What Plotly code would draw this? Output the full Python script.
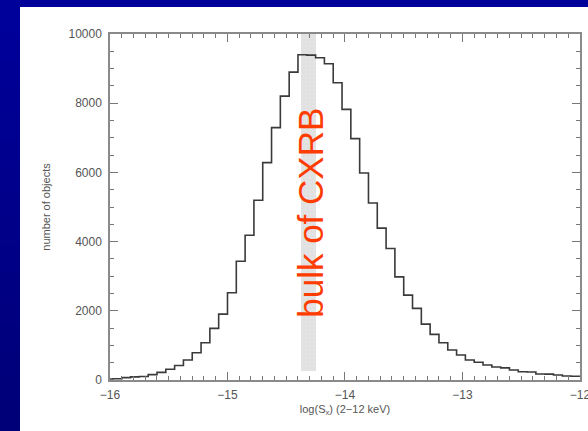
import plotly.graph_objects as go

# Histogram of 2-12 keV X-ray fluxes: regular bins of width 0.075 dex
bin_start = -16.05
bin_width = 0.075
counts = [
    30, 35, 70, 90, 100, 155, 220, 310, 420, 577, 788,
    1077, 1491, 1905, 2520, 3434, 4185, 5195, 6283, 7293, 8205,
    8898, 9399, 9390, 9312, 9140, 8592, 7821, 6975, 5983, 5117,
    4390, 3801, 2981, 2453, 2069, 1616, 1319, 1077, 866, 722,
    577, 511, 433, 375, 350, 289, 240, 230, 173, 170, 144, 115, 110,
]
edges = [bin_start + bin_width * i for i in range(len(counts) + 1)]

# Flux range that makes up the bulk of the cosmic X-ray background
band_x = [-14.375, -14.25]
band_y = [270, 10000]
band_label = "bulk of CXRB"

x_ticks = [-16, -15, -14, -13, -12]
x_labels = ["−16", "−15", "−14", "−13", "−12"]
y_ticks = [0, 2000, 4000, 6000, 8000, 10000]
y_labels = ["0", "2000", "4000", "6000", "8000", "10000"]

W, H = 588, 431
L, R, T, B = 110, 8, 34, 51
pw, ph = W - L - R, H - T - B

def px_x(p):
    return (p - L) / pw

def px_y(p):
    return (H - B - p) / ph

fig = go.Figure()

fig.add_trace(go.Bar(
    x=[(band_x[0] + band_x[1]) / 2], y=[band_y[1] - band_y[0]], base=[band_y[0]],
    width=[band_x[1] - band_x[0]],
    marker=dict(color="#e4e4e4", line=dict(width=0),
                pattern=dict(shape="+", fgcolor="#d0d0d0", size=4, solidity=0.2)),
    hoverinfo="skip", showlegend=False,
))

fig.add_trace(go.Scatter(
    x=edges, y=counts + [counts[-1]], mode="lines",
    line=dict(shape="hv", color="#3a3a3a", width=1.6),
    hoverinfo="skip", showlegend=False,
))

fig.add_annotation(
    x=-14.29, y=4830, xref="x", yref="y", text=band_label, textangle=-90,
    showarrow=False, font=dict(family="Liberation Sans, Arial", size=35, color="#ff3c00"),
)

# Slide backdrop: blue frame with a white panel
shapes = []
n = 16
for i in range(n):
    t = i / (n - 1)
    b = int(round(0x9a + (0x78 - 0x9a) * t))
    y0 = 7 + (H - 7) * i / n
    y1 = 7 + (H - 7) * (i + 1) / n + 1
    shapes.append(dict(type="rect", xref="paper", yref="paper", layer="below",
                       x0=px_x(-2), x1=px_x(20), y0=px_y(y1), y1=px_y(y0),
                       fillcolor=f"rgb(0,0,{b})", line=dict(width=0)))
shapes.append(dict(type="rect", xref="paper", yref="paper", layer="below",
                   x0=px_x(20), x1=px_x(W + 2), y0=px_y(H + 2), y1=px_y(7),
                   fillcolor="white", line=dict(width=0)))

axis_font = dict(family="Liberation Sans, Arial", size=12, color="#555555")
common = dict(
    showline=True, linecolor="#8a8a8a", linewidth=1.5, mirror="ticks",
    ticks="inside", ticklen=8, tickwidth=1, tickcolor="#777777",
    showgrid=False, zeroline=False, tickfont=axis_font,
    tickmode="array", ticklabeloverflow="allow", automargin=False,
)

fig.update_layout(
    width=W, height=H,
    margin=dict(l=L, r=R, t=T, b=B, autoexpand=False),
    paper_bgcolor="#00009a", plot_bgcolor="white",
    shapes=shapes, bargap=0,
    xaxis=dict(range=[-16, -11.9995], tickvals=x_ticks, ticktext=x_labels, ticklabelstandoff=3,
               minor=dict(dtick=0.1, ticklen=4, tickcolor="#777777", ticks="inside"),
               title=dict(text="log(S<sub>x</sub>) (2−12 keV)", standoff=4,
                          font=dict(family="Liberation Sans, Arial", size=11, color="#555555")),
               **common),
    yaxis=dict(range=[0, 10000], tickvals=y_ticks, ticktext=y_labels, ticklabelstandoff=4,
               minor=dict(dtick=500, ticklen=4, tickcolor="#777777", ticks="inside"),
               title=dict(text="number of objects", standoff=16,
                          font=dict(family="Liberation Sans, Arial", size=11, color="#555555")),
               **common),
)

fig.write_html("out.html")
